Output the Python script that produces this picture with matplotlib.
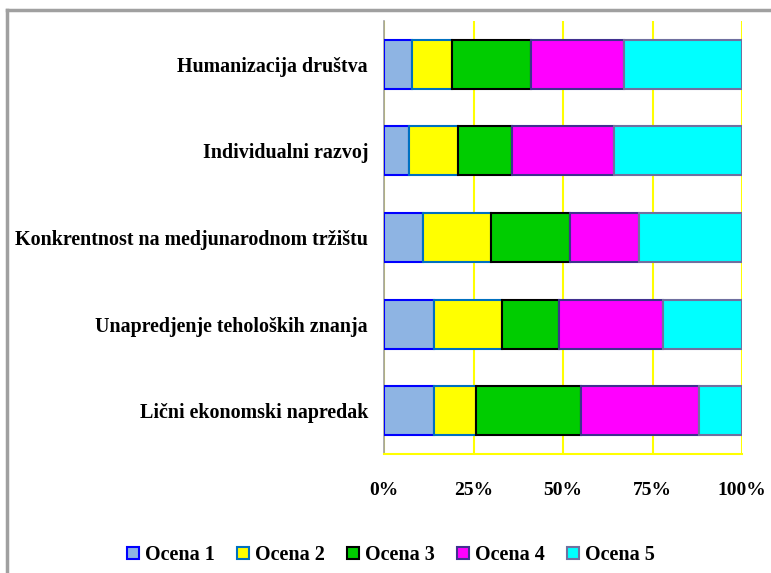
import matplotlib.pyplot as plt
import numpy as np
from matplotlib.lines import Line2D

categories = ['Humanizacija društva', 'Individualni razvoj',
              'Konkrentnost na medjunarodnom tržištu',
              'Unapredjenje teholoških znanja', 'Lični ekonomski napredak']
series = ['Ocena 1', 'Ocena 2', 'Ocena 3', 'Ocena 4', 'Ocena 5']
ocena1 = [7.9, 6.9, 10.9, 13.9, 13.9]
ocena2 = [11.0, 13.9, 19.0, 19.0, 11.9]
ocena3 = [22.2, 14.9, 22.0, 16.1, 29.2]
ocena4 = [26.0, 28.6, 19.2, 28.9, 33.1]
ocena5 = [32.9, 35.7, 28.9, 22.1, 11.9]
xticks = [0, 25, 50, 75, 100]
xticklabels = ['0%', '25%', '50%', '75%', '100%']

faces = ['#8eb4e3', '#ffff00', '#00cc00', '#ff00ff', '#00ffff']
edges = ['#0000ff', '#0070c0', '#000000', '#403090', '#7070a0']

plt.rcParams['font.family'] = ['Liberation Serif', 'DejaVu Serif']
plt.rcParams['font.weight'] = 'bold'

fig = plt.figure(figsize=(7.71, 5.73), dpi=100)
ax = fig.add_axes([384/771, 1 - 454/573, 358/771, 433/573])

y = np.arange(len(categories))[::-1]
left = np.zeros(len(categories))
for name, vals, fc, ec in zip(series, [ocena1, ocena2, ocena3, ocena4, ocena5], faces, edges):
    ax.barh(y, vals, left=left, height=0.565, color=fc, edgecolor=ec,
            linewidth=1.5, label=name, zorder=3)
    left += np.array(vals)

ax.set_xlim(0, 100)
ax.set_ylim(-0.5, len(categories) - 0.5)
ax.set_xticks(xticks)
ax.set_xticklabels(xticklabels, fontsize=14, fontweight='bold')
ax.set_yticks(y)
ax.set_yticklabels(categories, fontsize=14.4, fontweight='bold')
ax.tick_params(axis='x', length=0, pad=20)
ax.tick_params(axis='y', length=0, pad=11.5)
ax.xaxis.grid(True, color='#ffff00', linewidth=1.5, zorder=0)
for s in ['top', 'right']:
    ax.spines[s].set_visible(False)
ax.spines['bottom'].set_color('#ffff00')
ax.spines['bottom'].set_linewidth(1.5)
ax.spines['left'].set_color('#a0a0a0')
ax.spines['left'].set_linewidth(1.2)

# outer frame
fig.add_artist(Line2D([7/771, 1], [1 - 10/573, 1 - 10/573], color='#a0a0a0', linewidth=2.5))
fig.add_artist(Line2D([7/771, 7/771], [0, 1 - 10/573], color='#a0a0a0', linewidth=2.5))

fig.legend(loc='center', bbox_to_anchor=(391/771, 1 - 555/573), ncol=5,
           frameon=False, handlelength=0.6, handleheight=0.6,
           handletextpad=0.3, columnspacing=1.1,
           prop={'weight': 'bold', 'size': 14.5})

fig.savefig('out.png', dpi=100)
